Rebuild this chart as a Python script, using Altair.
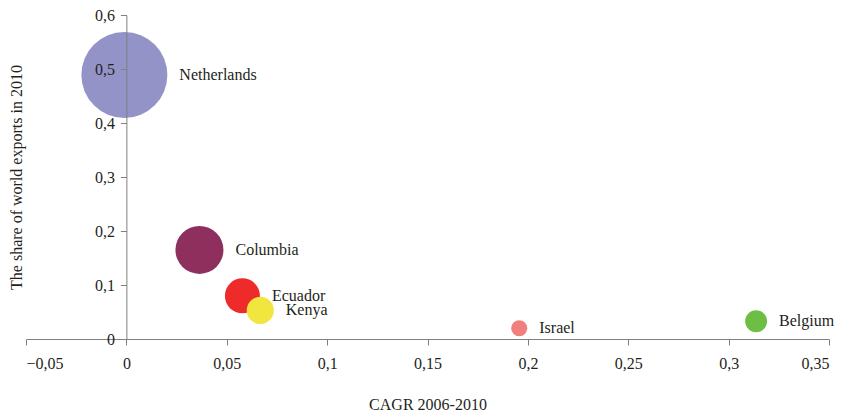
import math
import altair as alt
import pandas as pd

countries = ["Netherlands", "Columbia", "Ecuador", "Kenya", "Israel", "Belgium"]
cagr = [-0.001, 0.0364, 0.0578, 0.0667, 0.1957, 0.3137]
share = [0.489, 0.165, 0.080, 0.053, 0.020, 0.033]
bubble = [100, 31.2, 16.6, 9.9, 3.5, 6.5]
colors = ["#9393C8", "#8E2F5E", "#EE2A2A", "#F0E63E", "#F08080", "#6CBE45"]

x_ticks = [-0.05, 0, 0.05, 0.1, 0.15, 0.2, 0.25, 0.3, 0.35]
y_ticks = [0, 0.1, 0.2, 0.3, 0.4, 0.5, 0.6]

df = pd.DataFrame({"country": countries, "cagr": cagr, "share": share,
                   "bubble": bubble, "color": colors})

W, H = 803, 324
MAX_SIZE = 7396  # Vega circle size = (diameter)^2
FONT = "Liberation Serif"

xscale = alt.Scale(domain=[-0.05, 0.35], nice=False, zero=False)
yscale = alt.Scale(domain=[0, 0.6], nice=False)

xaxis = alt.Axis(values=x_ticks, labelExpr="replace(format(datum.value, '.2~f'), '.', ',')",
                 title="CAGR 2006-2010", titleY=57, titleFont=FONT, titleFontSize=16,
                 titleFontWeight="normal", titleColor="#231F20",
                 labelFont=FONT, labelFontSize=16, labelColor="#231F20", labelPadding=10,
                 domainColor="#808080", tickColor="#808080", tickSize=6, grid=False,
                 zindex=1)
yaxis = alt.Axis(values=y_ticks, labelExpr="replace(format(datum.value, '.1~f'), '.', ',')",
                 title="The share of world exports in 2010", titleX=-102, titleY=H / 2,
                 titleFont=FONT, titleFontSize=16, titleFontWeight="normal",
                 titleColor="#231F20", offset=-(W * 0.05 / 0.4),
                 labelFont=FONT, labelFontSize=16, labelColor="#231F20", labelPadding=6,
                 domainColor="#808080", tickColor="#808080", tickSize=6, grid=False,
                 zindex=1)

points = alt.Chart(df).mark_circle(opacity=1).encode(
    x=alt.X("cagr:Q", scale=xscale, axis=xaxis),
    y=alt.Y("share:Q", scale=yscale, axis=yaxis),
    size=alt.Size("bubble:Q", scale=alt.Scale(domain=[0, 100], range=[0, MAX_SIZE]), legend=None),
    color=alt.Color("color:N", scale=None),
)

layers = [points]
for c, b in zip(countries, bubble):
    r = math.sqrt(b / 100 * MAX_SIZE) / 2
    layers.append(
        alt.Chart(df).transform_filter(alt.datum.country == c)
        .mark_text(align="left", baseline="middle", dx=r + 12, font=FONT, fontSize=16,
                   color="#231F20")
        .encode(x=alt.X("cagr:Q", scale=xscale), y=alt.Y("share:Q", scale=yscale),
                text="country:N")
    )

chart = alt.layer(*layers).properties(
    width=W, height=H, autosize="none",
    padding={"left": 18, "top": 7, "right": 13, "bottom": 80},
).configure_view(stroke=None)

chart.save("out.html", embed_options={"renderer": "svg", "actions": False})
